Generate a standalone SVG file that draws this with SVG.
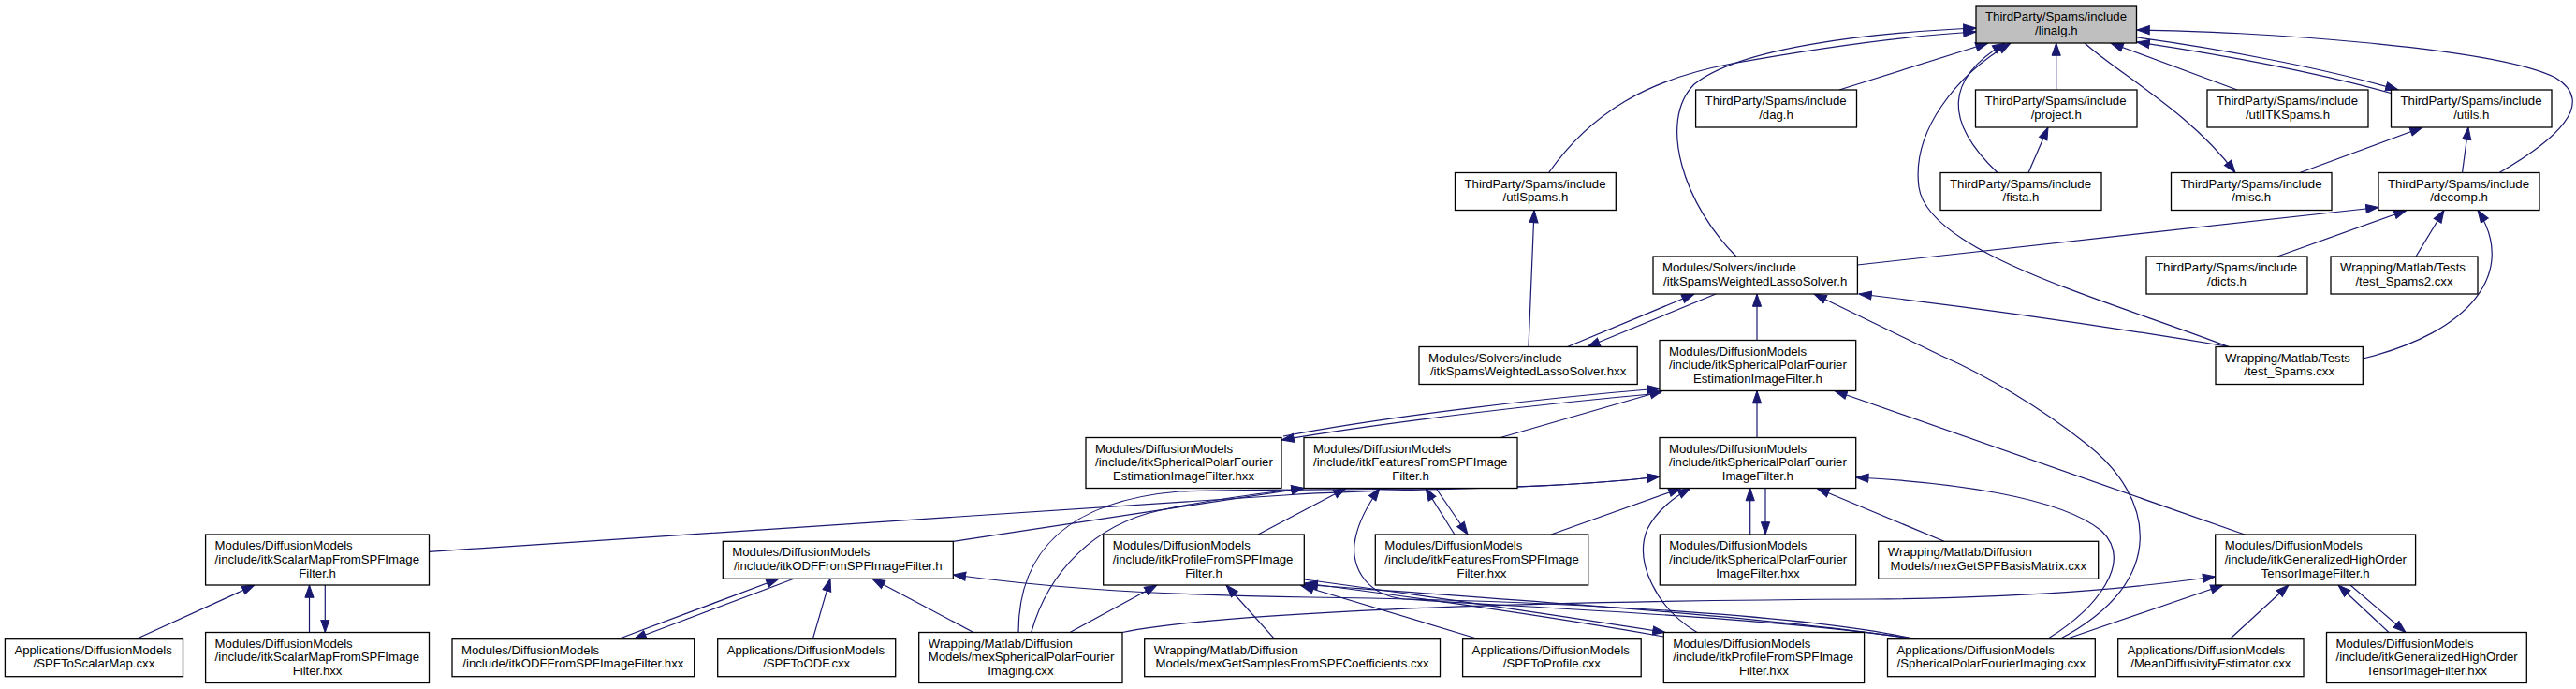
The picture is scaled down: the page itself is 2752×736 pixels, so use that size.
<svg xmlns="http://www.w3.org/2000/svg" width="2752" height="736" viewBox="0 0 2752 736">
<defs>
<style>
.n{fill:#fff;stroke:#000;stroke-width:1.3}
.g{fill:#bfbfbf}
text{font-family:"Liberation Sans",Arial,Helvetica,sans-serif;font-size:13.2px;fill:#000}
.c{text-anchor:middle}
.e{fill:none;stroke:#191970;stroke-width:1.2;marker-end:url(#a)}
</style>
<marker id="a" markerUnits="userSpaceOnUse" markerWidth="16" markerHeight="12" viewBox="-14 -6 16 12" refX="0" refY="0" orient="auto"><path d="M0,0 L-13.3,-4.6 L-13.3,4.6 Z" fill="#191970" stroke="#191970" stroke-width="1"/></marker>
</defs>
<rect width="2752" height="736" fill="#fff"/>
<g id="edges">
<path class="e" d="M1965,96 L2124,46"/>
<path class="e" d="M2196.7,96 L2196.7,46"/>
<path class="e" d="M2167,184.5 L2188,136"/>
<path class="e" d="M2134,184.5 C2077,130 2077,85 2142,46"/>
<path class="e" d="M2381,370.5 C2250,320 2060,270 2050,200 C2042,140 2090,80 2148,46"/>
<path class="e" d="M2390,96 L2255,46"/>
<path class="e" d="M2227,46 C2265,80 2340,120 2388,184.5"/>
<path class="e" d="M2556,100 C2470,76 2370,58 2283,45"/>
<path class="e" d="M2283,40 C2370,52 2480,72 2562,96"/>
<path class="e" d="M2670,184.5 C2730,150 2775,110 2730,83 C2665,50 2400,33 2283,32"/>
<path class="e" d="M2457,184.5 L2588,136"/>
<path class="e" d="M2630.5,184.5 L2637,136"/>
<path class="e" d="M1984.4,283 L2541,221.5"/>
<path class="e" d="M2433,274 L2571,224.5"/>
<path class="e" d="M2581,274 L2611,224.5"/>
<path class="e" d="M2524.3,383 C2640,355 2690,290 2647,224.5"/>
<path class="e" d="M1654.5,184.5 C1700,120 1760,85 1850,68 C1950,50 2040,38 2111,34"/>
<path class="e" d="M1855,274 C1800,220 1770,130 1810,90 C1860,50 2000,35 2111,30"/>
<path class="e" d="M1633,370.5 L1639,224.5"/>
<path class="e" d="M1674.5,370.5 L1810,314"/>
<path class="e" d="M1833,314 L1696,370.5"/>
<path class="e" d="M1877,363.5 L1877,314"/>
<path class="e" d="M2382,370.5 C2200,340 2080,325 1986,314"/>
<path class="e" d="M2200,682.7 C2320,620 2300,530 2230,475 C2180,435 2120,400 2074,380 L1938,314"/>
<path class="e" d="M2187,682.7 C2240,650 2280,600 2245,567 C2200,530 2080,515 1982.7,510"/>
<path class="e" d="M2398,571 L1960,417.5"/>
<path class="e" d="M1371,466 C1480,445 1650,425 1773,415"/>
<path class="e" d="M1775,420 C1650,431 1480,451 1369,470"/>
<path class="e" d="M1603,467.5 L1776,417.5"/>
<path class="e" d="M1877,467.5 L1877,417.5"/>
<path class="e" d="M458.5,589.3 L1380,528.5 C1500,521 1650,524 1773,509"/>
<path class="e" d="M1088,675.5 C1088,590 1140,535 1260,525 C1400,520 1620,528 1773,509"/>
<path class="e" d="M1101.7,675.5 C1120,610 1170,560 1240,545 C1300,532 1350,527 1393,521.5"/>
<path class="e" d="M1018.3,578.3 L1393,521.5"/>
<path class="e" d="M1344,571 L1438,521.5"/>
<path class="e" d="M2047,682.7 C1900,660 1650,650 1500,640 C1455,635 1442,600 1448,575 C1452,555 1462,538 1474,521.5"/>
<path class="e" d="M1554,571 L1523,521.5"/>
<path class="e" d="M1534,521.5 L1568,571"/>
<path class="e" d="M1657,571 L1796,521.5"/>
<path class="e" d="M1813,675.5 C1770,650 1745,600 1760,565 C1770,545 1790,530 1806,521.5"/>
<path class="e" d="M1869.7,571 L1869.7,521.5"/>
<path class="e" d="M1886,521.5 L1886,571"/>
<path class="e" d="M2077,578.3 L1941,521.5"/>
<path class="e" d="M330.5,675.5 L330.5,625"/>
<path class="e" d="M347.3,625 L347.3,675.5"/>
<path class="e" d="M145,682.7 L272,625"/>
<path class="e" d="M660,682.7 L832,618.3"/>
<path class="e" d="M848,618.3 L677,682.7"/>
<path class="e" d="M868.3,682.7 L887,618.3"/>
<path class="e" d="M1040,675.5 L932,618.3"/>
<path class="e" d="M2046,682.7 C1950,660 1700,642 1400,638 C1200,635 1100,625 1018.3,614"/>
<path class="e" d="M1199,675.5 C1300,655 1600,642 2000,640 C2200,638 2300,625 2366.7,616"/>
<path class="e" d="M1143,675.5 L1236,625"/>
<path class="e" d="M1361.7,682.7 L1310,625"/>
<path class="e" d="M1580,682.7 L1390,625.5"/>
<path class="e" d="M1393.3,619 C1550,640 1680,660 1779,675.5"/>
<path class="e" d="M1777.3,680 C1680,663 1550,643 1394,623"/>
<path class="e" d="M2046,682.7 C1900,660 1650,643 1394,624.5"/>
<path class="e" d="M2206.7,682.7 L2375,625"/>
<path class="e" d="M2382,682.7 L2445,625"/>
<path class="e" d="M2552,675.5 L2498,625"/>
<path class="e" d="M2511,625 L2570,675.5"/>
</g>
<g id="node-linalg"><rect class="n g" x="2111" y="6" width="171.5" height="40"/><text x="2121" y="22">ThirdParty/Spams/include</text><text class="c" x="2196.75" y="36.7">/linalg.h</text></g>
<g id="node-dag"><rect class="n" x="1811.6" y="96" width="171.9" height="40"/><text x="1821.6" y="112">ThirdParty/Spams/include</text><text class="c" x="1897.55" y="126.7">/dag.h</text></g>
<g id="node-project"><rect class="n" x="2110.5" y="96" width="172.5" height="40"/><text x="2120.5" y="112">ThirdParty/Spams/include</text><text class="c" x="2196.75" y="126.7">/project.h</text></g>
<g id="node-utlITKSpams"><rect class="n" x="2358" y="96" width="172" height="40"/><text x="2368" y="112">ThirdParty/Spams/include</text><text class="c" x="2444" y="126.7">/utlITKSpams.h</text></g>
<g id="node-utils"><rect class="n" x="2554.5" y="96" width="171.5" height="40"/><text x="2564.5" y="112">ThirdParty/Spams/include</text><text class="c" x="2640.25" y="126.7">/utils.h</text></g>
<g id="node-utlSpams"><rect class="n" x="1554.5" y="184.5" width="171.8" height="40"/><text x="1564.5" y="200.5">ThirdParty/Spams/include</text><text class="c" x="1640.4" y="215.2">/utlSpams.h</text></g>
<g id="node-fista"><rect class="n" x="2073" y="184.5" width="172" height="40"/><text x="2083" y="200.5">ThirdParty/Spams/include</text><text class="c" x="2159" y="215.2">/fista.h</text></g>
<g id="node-misc"><rect class="n" x="2319.5" y="184.5" width="171.5" height="40"/><text x="2329.5" y="200.5">ThirdParty/Spams/include</text><text class="c" x="2405.25" y="215.2">/misc.h</text></g>
<g id="node-decomp"><rect class="n" x="2541" y="184.5" width="172" height="40"/><text x="2551" y="200.5">ThirdParty/Spams/include</text><text class="c" x="2627" y="215.2">/decomp.h</text></g>
<g id="node-wls-h"><rect class="n" x="1766" y="274" width="218.4" height="40"/><text x="1776" y="290">Modules/Solvers/include</text><text class="c" x="1875.2" y="304.7">/itkSpamsWeightedLassoSolver.h</text></g>
<g id="node-dicts"><rect class="n" x="2293" y="274" width="172" height="40"/><text x="2303" y="290">ThirdParty/Spams/include</text><text class="c" x="2379" y="304.7">/dicts.h</text></g>
<g id="node-test2"><rect class="n" x="2490" y="274" width="157" height="40"/><text x="2500" y="290">Wrapping/Matlab/Tests</text><text class="c" x="2568.5" y="304.7">/test_Spams2.cxx</text></g>
<g id="node-wls-hxx"><rect class="n" x="1516" y="370.5" width="233.2" height="40"/><text x="1526" y="386.5">Modules/Solvers/include</text><text class="c" x="1632.6" y="401.2">/itkSpamsWeightedLassoSolver.hxx</text></g>
<g id="node-est-h"><rect class="n" x="1773" y="363.5" width="209.7" height="54"/><text x="1783" y="379.6">Modules/DiffusionModels</text><text x="1783" y="394.3">/include/itkSphericalPolarFourier</text><text class="c" x="1877.85" y="409">EstimationImageFilter.h</text></g>
<g id="node-test"><rect class="n" x="2367" y="370.5" width="157.3" height="40"/><text x="2377" y="386.5">Wrapping/Matlab/Tests</text><text class="c" x="2445.65" y="401.2">/test_Spams.cxx</text></g>
<g id="node-est-hxx"><rect class="n" x="1160" y="467.5" width="209" height="54"/><text x="1170" y="483.6">Modules/DiffusionModels</text><text x="1170" y="498.3">/include/itkSphericalPolarFourier</text><text class="c" x="1264.5" y="513">EstimationImageFilter.hxx</text></g>
<g id="node-feat-h"><rect class="n" x="1393" y="467.5" width="228" height="54"/><text x="1403" y="483.6">Modules/DiffusionModels</text><text x="1403" y="498.3">/include/itkFeaturesFromSPFImage</text><text class="c" x="1507" y="513">Filter.h</text></g>
<g id="node-spf-h"><rect class="n" x="1773" y="467.5" width="209.7" height="54"/><text x="1783" y="483.6">Modules/DiffusionModels</text><text x="1783" y="498.3">/include/itkSphericalPolarFourier</text><text class="c" x="1877.85" y="513">ImageFilter.h</text></g>
<g id="node-scalar-h"><rect class="n" x="219.6" y="571" width="238.9" height="54"/><text x="229.6" y="587.1">Modules/DiffusionModels</text><text x="229.6" y="601.8">/include/itkScalarMapFromSPFImage</text><text class="c" x="339.05" y="616.5">Filter.h</text></g>
<g id="node-odf-h"><rect class="n" x="772.3" y="578.3" width="246" height="40"/><text x="782.3" y="594.3">Modules/DiffusionModels</text><text class="c" x="895.3" y="609">/include/itkODFFromSPFImageFilter.h</text></g>
<g id="node-profile-h"><rect class="n" x="1178.7" y="571" width="214.6" height="54"/><text x="1188.7" y="587.1">Modules/DiffusionModels</text><text x="1188.7" y="601.8">/include/itkProfileFromSPFImage</text><text class="c" x="1286" y="616.5">Filter.h</text></g>
<g id="node-feat-hxx"><rect class="n" x="1469.3" y="571" width="227.4" height="54"/><text x="1479.3" y="587.1">Modules/DiffusionModels</text><text x="1479.3" y="601.8">/include/itkFeaturesFromSPFImage</text><text class="c" x="1583" y="616.5">Filter.hxx</text></g>
<g id="node-spf-hxx"><rect class="n" x="1773.3" y="571" width="209.4" height="54"/><text x="1783.3" y="587.1">Modules/DiffusionModels</text><text x="1783.3" y="601.8">/include/itkSphericalPolarFourier</text><text class="c" x="1878" y="616.5">ImageFilter.hxx</text></g>
<g id="node-mexbasis"><rect class="n" x="2006.7" y="578.3" width="235" height="40"/><text x="2016.7" y="594.3">Wrapping/Matlab/Diffusion</text><text class="c" x="2124.2" y="609">Models/mexGetSPFBasisMatrix.cxx</text></g>
<g id="node-gho-h"><rect class="n" x="2366.7" y="571" width="213.9" height="54"/><text x="2376.7" y="587.1">Modules/DiffusionModels</text><text x="2376.7" y="601.8">/include/itkGeneralizedHighOrder</text><text class="c" x="2473.65" y="616.5">TensorImageFilter.h</text></g>
<g id="node-spf2scalar"><rect class="n" x="5.4" y="682.7" width="190.1" height="40"/><text x="15.4" y="698.7">Applications/DiffusionModels</text><text class="c" x="100.45" y="713.4">/SPFToScalarMap.cxx</text></g>
<g id="node-scalar-hxx"><rect class="n" x="219.6" y="675.5" width="238.9" height="54"/><text x="229.6" y="691.6">Modules/DiffusionModels</text><text x="229.6" y="706.3">/include/itkScalarMapFromSPFImage</text><text class="c" x="339.05" y="721">Filter.hxx</text></g>
<g id="node-odf-hxx"><rect class="n" x="483" y="682.7" width="258.7" height="40"/><text x="493" y="698.7">Modules/DiffusionModels</text><text class="c" x="612.35" y="713.4">/include/itkODFFromSPFImageFilter.hxx</text></g>
<g id="node-spf2odf"><rect class="n" x="766.7" y="682.7" width="190" height="40"/><text x="776.7" y="698.7">Applications/DiffusionModels</text><text class="c" x="861.7" y="713.4">/SPFToODF.cxx</text></g>
<g id="node-meximg"><rect class="n" x="981.7" y="675.5" width="217.3" height="54"/><text x="991.7" y="691.6">Wrapping/Matlab/Diffusion</text><text x="991.7" y="706.3">Models/mexSphericalPolarFourier</text><text class="c" x="1090.35" y="721">Imaging.cxx</text></g>
<g id="node-mexsamples"><rect class="n" x="1222.7" y="682.7" width="315.8" height="40"/><text x="1232.7" y="698.7">Wrapping/Matlab/Diffusion</text><text class="c" x="1380.6" y="713.4">Models/mexGetSamplesFromSPFCoefficients.cxx</text></g>
<g id="node-spf2profile"><rect class="n" x="1562.6" y="682.7" width="190.6" height="40"/><text x="1572.6" y="698.7">Applications/DiffusionModels</text><text class="c" x="1657.9" y="713.4">/SPFToProfile.cxx</text></g>
<g id="node-profile-hxx"><rect class="n" x="1777.3" y="675.5" width="214.3" height="54"/><text x="1787.3" y="691.6">Modules/DiffusionModels</text><text x="1787.3" y="706.3">/include/itkProfileFromSPFImage</text><text class="c" x="1884.45" y="721">Filter.hxx</text></g>
<g id="node-spfimg"><rect class="n" x="2016.5" y="682.7" width="221.8" height="40"/><text x="2026.5" y="698.7">Applications/DiffusionModels</text><text class="c" x="2127.4" y="713.4">/SphericalPolarFourierImaging.cxx</text></g>
<g id="node-meandiff"><rect class="n" x="2262.7" y="682.7" width="198.3" height="40"/><text x="2272.7" y="698.7">Applications/DiffusionModels</text><text class="c" x="2361.85" y="713.4">/MeanDiffusivityEstimator.cxx</text></g>
<g id="node-gho-hxx"><rect class="n" x="2485.5" y="675.5" width="213.8" height="54"/><text x="2495.5" y="691.6">Modules/DiffusionModels</text><text x="2495.5" y="706.3">/include/itkGeneralizedHighOrder</text><text class="c" x="2592.4" y="721">TensorImageFilter.hxx</text></g>
</svg>
